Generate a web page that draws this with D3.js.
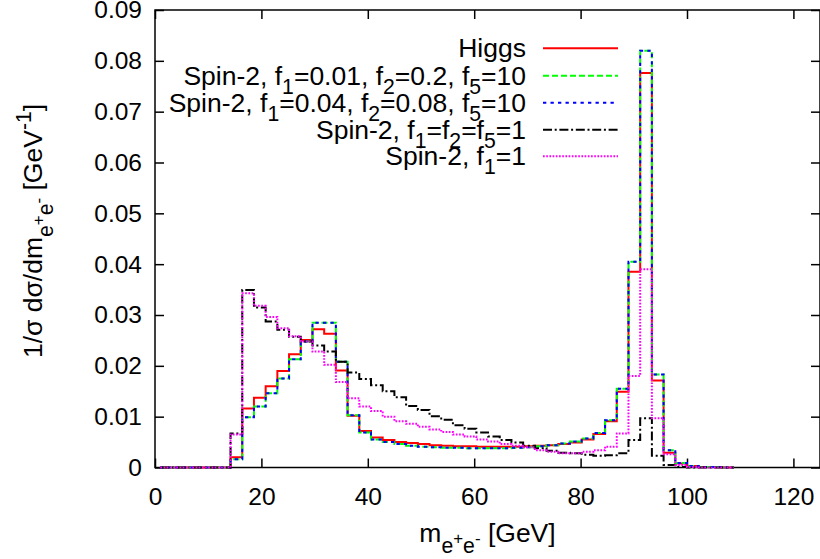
<!DOCTYPE html>
<html>
<head>
<meta charset="utf-8">
<script src="https://cdn.jsdelivr.net/npm/d3@7"></script>
<style>
  body { margin: 0; background: #fff; }
  svg { display: block; font-family: "Liberation Sans", Arial, sans-serif; }
  .axis path { display: none; }
  .axis line { stroke: #000; stroke-width: 1.5; }
  .axis text { font-size: 24.5px; fill: #000; font-family: "Liberation Sans", Arial, sans-serif; }
</style>
</head>
<body>
<svg id="chart" width="820" height="559"></svg>
<script>
// histogram bins: lower edges, width 2.2 GeV
var binLow = [1.0, 3.2, 5.4, 7.6, 9.8, 12.0, 14.2, 16.4, 18.6, 20.8,
  23.0, 25.2, 27.4, 29.6, 31.8, 34.0, 36.2, 38.4, 40.6, 42.8,
  45.0, 47.2, 49.4, 51.6, 53.8, 56.0, 58.2, 60.4, 62.6, 64.8,
  67.0, 69.2, 71.4, 73.6, 75.8, 78.0, 80.2, 82.4, 84.6, 86.8,
  89.0, 91.2, 93.4, 95.6, 97.8, 100.0, 102.2, 104.4, 106.6];
var binWidth = 2.2;

var higgs = [0, 0, 0, 0, 0, 0, 0.0020, 0.0116, 0.0137, 0.0160,
  0.0190, 0.0223, 0.0251, 0.0272, 0.0263, 0.0191, 0.0102, 0.0072, 0.0059, 0.0054,
  0.0050, 0.0048, 0.0046, 0.0044, 0.0043, 0.0042, 0.0042, 0.0041, 0.0041, 0.0041,
  0.0041, 0.0042, 0.0043, 0.0044, 0.0046, 0.0049, 0.0055, 0.0066, 0.0091, 0.0149,
  0.0385, 0.0776, 0.0171, 0.0029, 0.0008, 0.0003, 0.0001, 0.0001, 0];

var spinA = [0, 0, 0, 0, 0, 0, 0.0016, 0.0099, 0.0120, 0.0146,
  0.0175, 0.0213, 0.0248, 0.0285, 0.0285, 0.0208, 0.0103, 0.0069, 0.0055, 0.0050,
  0.0046, 0.0043, 0.0041, 0.0040, 0.0039, 0.0039, 0.0038, 0.0038, 0.0038, 0.0038,
  0.0039, 0.0040, 0.0042, 0.0044, 0.0047, 0.0051, 0.0057, 0.0068, 0.0093, 0.0155,
  0.0405, 0.0820, 0.0183, 0.0034, 0.0009, 0.0003, 0.0001, 0.0001, 0];

var spinB = [0, 0, 0, 0, 0, 0, 0.0016, 0.0099, 0.0120, 0.0146,
  0.0175, 0.0213, 0.0248, 0.0285, 0.0285, 0.0208, 0.0103, 0.0069, 0.0055, 0.0050,
  0.0046, 0.0043, 0.0041, 0.0040, 0.0039, 0.0039, 0.0038, 0.0038, 0.0038, 0.0038,
  0.0039, 0.0040, 0.0042, 0.0044, 0.0047, 0.0051, 0.0057, 0.0068, 0.0093, 0.0155,
  0.0405, 0.0820, 0.0183, 0.0034, 0.0009, 0.0003, 0.0001, 0.0001, 0];

var spinC = [0, 0, 0, 0, 0, 0, 0.0067, 0.0349, 0.0315, 0.0287,
  0.0271, 0.0257, 0.0248, 0.0240, 0.0228, 0.0208, 0.0187, 0.0174, 0.0162, 0.0150,
  0.0138, 0.0121, 0.0113, 0.0101, 0.0094, 0.0083, 0.0076, 0.0069, 0.0061, 0.0054,
  0.0049, 0.0043, 0.0038, 0.0033, 0.0029, 0.0028, 0.0025, 0.0023, 0.0024, 0.0028,
  0.0054, 0.0097, 0.0023, 0.0005, 0.0001, 0, 0, 0, 0];

var spinD = [0, 0, 0, 0, 0, 0, 0.0065, 0.0343, 0.0318, 0.0296,
  0.0274, 0.0258, 0.0248, 0.0228, 0.0202, 0.0168, 0.0136, 0.0120, 0.0111, 0.0100,
  0.0091, 0.0086, 0.0080, 0.0075, 0.0070, 0.0065, 0.0061, 0.0055, 0.0051, 0.0046,
  0.0043, 0.0040, 0.0034, 0.0031, 0.0028, 0.0028, 0.0031, 0.0034, 0.0041, 0.0067,
  0.0180, 0.0390, 0.0097, 0.0026, 0.0005, 0.0001, 0, 0, 0];

var labels = ['Higgs',
  'Spin-2, f_1=0.01, f_2=0.2, f_5=10',
  'Spin-2, f_1=0.04, f_2=0.08, f_5=10',
  'Spin-2, f_1=f_2=f_5=1',
  'Spin-2, f_1=1'];

var xTicks = [0, 20, 40, 60, 80, 100, 120];
var yTicks = [0, 0.01, 0.02, 0.03, 0.04, 0.05, 0.06, 0.07, 0.08, 0.09];

var styles = [
  { color: '#ff0000', dash: null },
  { color: '#00ff00', dash: '6,3' },
  { color: '#0000ff', dash: '3.3,4.2' },
  { color: '#000000', dash: '9,2.7,2,2.7' },
  { color: '#ff00ff', dash: '1.7,1.5' }
];
var series = [higgs, spinA, spinB, spinC, spinD];

var fs = 26.5;
var svg = d3.select('#chart');
var pL = 155, pR = 820, pT = 10, pB = 467.5;

var x = d3.scaleLinear().domain([0, 125]).range([pL, pR]);
var y = d3.scaleLinear().domain([0, 0.09]).range([pB, pT]);

// axes, ticks drawn inward (mirrored on top/right)
svg.append('g').attr('class', 'axis')
  .attr('transform', 'translate(0,' + pB + ')')
  .call(d3.axisBottom(x).tickValues(xTicks).tickSizeInner(-9).tickSizeOuter(0).tickPadding(20));
svg.append('g').attr('class', 'axis')
  .attr('transform', 'translate(0,' + pT + ')')
  .call(d3.axisTop(x).tickValues(xTicks).tickSizeInner(-9).tickSizeOuter(0).tickFormat(''));
svg.append('g').attr('class', 'axis')
  .attr('transform', 'translate(' + pL + ',0)')
  .call(d3.axisLeft(y).tickValues(yTicks).tickSizeInner(-9).tickSizeOuter(0).tickPadding(13)
    .tickFormat(function(d){ return d === 0 ? '0' : d3.format('.2f')(d); }));
svg.append('g').attr('class', 'axis')
  .attr('transform', 'translate(' + pR + ',0)')
  .call(d3.axisRight(y).tickValues(yTicks).tickSizeInner(-9).tickSizeOuter(0).tickFormat(''));

svg.append('rect')
  .attr('x', pL).attr('y', pT)
  .attr('width', pR - pL).attr('height', pB - pT)
  .attr('fill', 'none').attr('stroke', '#000').attr('stroke-width', 1.5);

// histogram step lines
var line = d3.line()
  .x(function(d){ return x(d[0]); })
  .y(function(d){ return y(d[1]); })
  .curve(d3.curveStepAfter);

series.forEach(function(vals, i){
  var pts = binLow.map(function(b, k){ return [b, vals[k]]; });
  pts.push([binLow[binLow.length - 1] + binWidth, vals[vals.length - 1]]);
  svg.append('path')
    .attr('d', line(pts))
    .attr('fill', 'none')
    .attr('stroke', styles[i].color)
    .attr('stroke-width', 2)
    .attr('stroke-dasharray', styles[i].dash);
});

// text with _x subscripts
function addRich(sel, str){
  var parts = str.split(/(_\w)/);
  var shift = 0;
  parts.forEach(function(p){
    if (!p) return;
    if (p[0] === '_') {
      sel.append('tspan').attr('dy', 9 - shift).attr('font-size', fs * 0.8).text(p.slice(1));
      shift = 9;
    } else {
      sel.append('tspan').attr('dy', -shift).text(p);
      shift = 0;
    }
  });
}

// legend
var legY = [48.3, 75.7, 102.7, 129.7, 156.3];
labels.forEach(function(lab, i){
  var t = svg.append('text')
    .attr('x', 526).attr('y', legY[i] + 9)
    .attr('text-anchor', 'end')
    .attr('font-size', fs);
  addRich(t, lab);
  svg.append('line')
    .attr('x1', 543).attr('x2', 618)
    .attr('y1', legY[i]).attr('y2', legY[i])
    .attr('stroke', styles[i].color)
    .attr('stroke-width', 2)
    .attr('stroke-dasharray', styles[i].dash);
});

// axis titles
function massSub(t){
  t.append('tspan').attr('dy', 11).attr('font-size', fs * 0.8).text('e');
  t.append('tspan').attr('dy', -9).attr('font-size', fs * 0.64).text('+');
  t.append('tspan').attr('dy', 9).attr('font-size', fs * 0.8).text('e');
  t.append('tspan').attr('dy', -9).attr('font-size', fs * 0.64).text('-');
}

var xt = svg.append('text')
  .attr('x', (pL + pR) / 2).attr('y', 541.5)
  .attr('text-anchor', 'middle').attr('font-size', fs);
xt.append('tspan').text('m');
massSub(xt);
xt.append('tspan').attr('dy', -2).text(' [GeV]');

var yt = svg.append('text')
  .attr('transform', 'translate(42,231) rotate(-90)')
  .attr('text-anchor', 'middle').attr('font-size', fs);
yt.append('tspan').text('1/σ dσ/dm');
massSub(yt);
yt.append('tspan').attr('dy', -2).text(' [GeV');
yt.append('tspan').attr('dy', -11).attr('font-size', fs * 0.8).text('-1');
yt.append('tspan').attr('dy', 11).text(']');
</script>
</body>
</html>
